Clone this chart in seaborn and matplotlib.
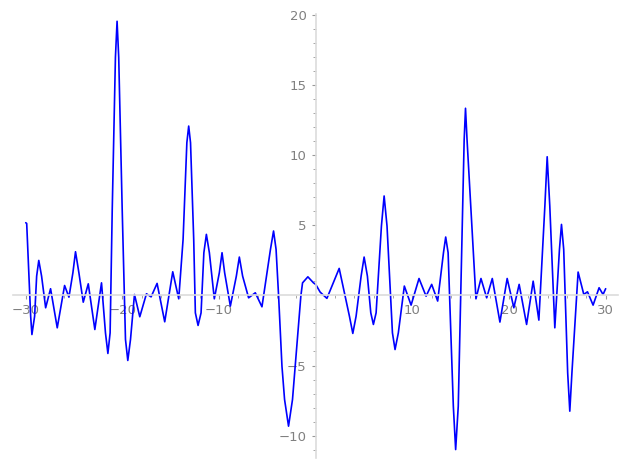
import numpy as np
import pandas as pd
import matplotlib
matplotlib.use('Agg')
import matplotlib.pyplot as plt
import seaborn as sns
from matplotlib.ticker import MultipleLocator, FuncFormatter

sns.set_style('white')
plt.rcParams['font.family'] = ['DejaVu Sans']

### pontos (extremos, flancos e alguns cruzamentos)

x_pts = [-30.0, -29.9, -29.49, -29.36, -29.08, -28.87, -28.65, -28.36, -27.94, -27.43,
         -26.74, -25.98, -25.53, -25.12, -24.85, -24.5, -24.05, -23.53, -22.85, -22.16,
         -21.75, -21.5, -21.27, -21.05, -20.72, -20.55, -20.38, -20.02, -19.68, -19.44,
         -19.16, -18.75, -18.2, -17.51, -17.03, -16.41, -15.62, -14.79, -14.17, -13.72,
         -13.33, -13.14, -12.95, -12.62, -12.45, -12.17, -11.86, -11.57, -11.31, -11.0,
         -10.49, -9.97, -9.69, -9.42, -8.83, -8.21, -7.9, -7.56, -6.94, -6.25,
         -5.56, -4.68, -4.36, -4.1, -3.84, -3.49, -3.22, -2.81, -2.4, -2.12,
         -1.53, -1.36, -0.81, -0.23, 0.0, 0.46, 1.16, 2.43, 3.49, 3.84,
         4.18, 4.7, 5.01, 5.35, 5.7, 5.97, 6.25, 6.8, 7.08, 7.38,
         7.94, 8.21, 8.55, 9.17, 9.87, 10.69, 11.42, 12.0, 12.62, 13.22,
         13.45, 13.7, 14.24, 14.48, 14.75, 15.36, 15.5, 15.66, 16.58, 17.1,
         17.69, 18.27, 19.06, 19.81, 20.5, 21.05, 21.82, 22.5, 23.09, 23.71,
         23.95, 24.22, 24.74, 25.22, 25.43, 25.66, 26.07, 26.29, 26.51, 27.15,
         27.74, 28.12, 28.7, 29.32, 29.73, 30.0]

y_pts = [5.19, 5.14, -1.48, -2.79, -1.48, 1.38, 2.5, 1.38, -0.88, 0.48,
         -2.31, 0.71, -0.12, 1.62, 3.12, 1.62, -0.48, 0.83, -2.43, 0.9,
         -2.67, -4.14, -2.67, 6.14, 17.0, 19.57, 17.0, 6.14, -3.14, -4.64,
         -3.14, 0.07, -1.52, 0.12, -0.1, 0.86, -1.88, 1.69, -0.24, 4.0,
         10.9, 12.09, 10.9, 4.0, -1.24, -2.14, -1.24, 3.05, 4.36, 3.05,
         -0.24, 1.62, 3.05, 1.62, -0.76, 1.38, 2.74, 1.38, -0.17, 0.19,
         -0.81, 3.29, 4.6, 3.29, 0.0, -5.05, -7.43, -9.33, -7.43, -5.05,
         0.0, 0.9, 1.33, 0.9, 0.79, 0.24, -0.21, 1.93, -1.48, -2.71,
         -1.48, 1.38, 2.74, 1.38, -1.24, -2.07, -1.24, 4.95, 7.1, 4.95,
         -2.67, -3.86, -2.67, 0.67, -0.69, 1.21, -0.05, 0.79, -0.4, 3.05,
         4.17, 3.05, -7.9, -11.0, -7.9, 11.1, 13.36, 11.1, -0.24, 1.21,
         -0.17, 1.21, -1.9, 1.21, -0.88, 0.79, -2.07, 1.02, -1.76, 6.38,
         9.9, 6.38, -2.31, 3.29, 5.07, 3.29, -5.52, -8.26, -5.52, 1.67,
         0.07, 0.26, -0.69, 0.55, 0.07, 0.48]

x_ticks = [-30, -20, -10, 10, 20, 30]
y_ticks = [-10, -5, 5, 10, 15, 20]

df = pd.DataFrame({'x': x_pts, 'y': y_pts})

fig = plt.figure(figsize=(6.27, 4.69), dpi=100)
ax = fig.add_axes([0.021, 0.0235, 0.965, 0.947])

sns.lineplot(data=df, x='x', y='y', color='blue', linewidth=1.2, sort=False,
             estimator=None, ax=ax)
for linha in ax.lines:
    linha.set_solid_joinstyle('round')

ax.set_xlim(-31.3, 31.3)
ax.set_ylim(-11.6, 20.1)

# eixos no zero, estilo Sage
for lado in ['top', 'right']:
    ax.spines[lado].set_visible(False)
ax.spines['left'].set_position(('data', 0))
ax.spines['bottom'].set_position(('data', 0))
for lado in ['left', 'bottom']:
    ax.spines[lado].set_color('#dcdcdc')
    ax.spines[lado].set_linewidth(1.2)

ax.set_xticks(x_ticks)
ax.set_yticks(y_ticks)
ax.xaxis.set_minor_locator(MultipleLocator(2))
ax.yaxis.set_minor_locator(MultipleLocator(1))
fmt = FuncFormatter(lambda v, p: '' if v == 0 else '{:g}'.format(v).replace('-', '\u2212'))
ax.xaxis.set_major_formatter(fmt)
ax.yaxis.set_major_formatter(fmt)

ax.tick_params(which='major', length=3, width=0.8, color='#999999',
               labelcolor='#808080', labelsize=9.5, direction='out',
               left=True, bottom=True)
ax.tick_params(which='minor', length=2, width=0.6, color='#999999',
               direction='out', left=True, bottom=True)

ax.set_xlabel('')
ax.set_ylabel('')
ax.grid(False)

fig.savefig('out.png', dpi=100)
